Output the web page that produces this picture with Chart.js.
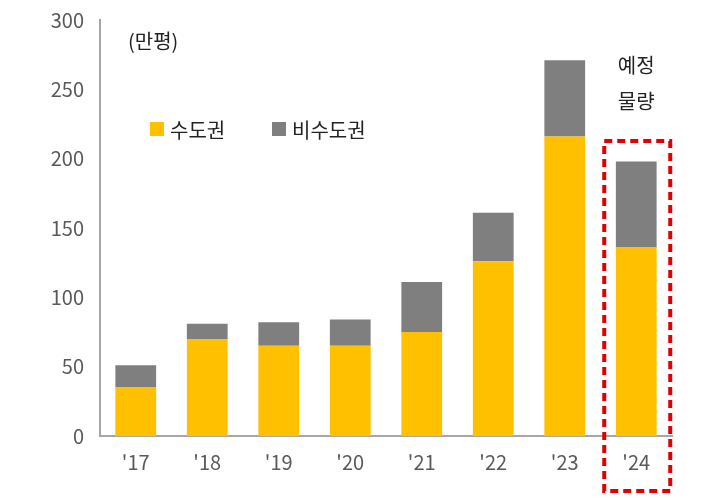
<!DOCTYPE html><html><head><meta charset="utf-8">
<script src="https://cdn.jsdelivr.net/npm/chart.js@4"></script>
<style>html,body{margin:0;background:#fff}#w{width:704px;height:501px}</style></head><body>
<div id="w"><canvas id="c"></canvas></div>
<script>
const categories=["'17","'18","'19","'20","'21","'22","'23","'24"];
const capital=[35,70,65,65,75,126,216,136];
const nonCapital=[16,11,17,19,36,35,55,62];
const yTicks=[0,50,100,150,200,250,300];
const F='"Noto Sans CJK KR","Noto Sans",sans-serif';
const overlay={id:'ov',afterDraw(ch){
 const c=ch.ctx,x=ch.scales.x,y=ch.scales.y;
 c.save();c.fillStyle='#222';c.font='20px '+F;c.textBaseline='middle';
 c.fillText('(만평)',128,41);
 c.fillStyle='#FFC000';c.fillRect(150,122,14,14);
 c.fillStyle='#222';c.fillText('수도권',170,130);
 c.fillStyle='#7F7F7F';c.fillRect(272,122,14,14);
 c.fillStyle='#222';c.fillText('비수도권',292,130);
 const cx=x.getPixelForValue(7);
 c.textAlign='center';c.fillText('예정',cx,65);c.fillText('물량',cx,101);
 c.strokeStyle='#E00000';c.lineWidth=4;c.setLineDash([8,5]);
 c.strokeRect(cx-32,141,66,350);
 c.restore();}};
new Chart(document.getElementById('c'),{type:'bar',
data:{labels:categories,datasets:[
 {label:'수도권',data:capital,backgroundColor:'#FFC000',barPercentage:0.57,categoryPercentage:1},
 {label:'비수도권',data:nonCapital,backgroundColor:'#7F7F7F',barPercentage:0.57,categoryPercentage:1}]},
options:{responsive:true,maintainAspectRatio:false,animation:false,
 layout:{padding:{top:6,right:32,bottom:0,left:0}},
 plugins:{legend:{display:false},tooltip:{enabled:false}},
 scales:{
  x:{stacked:true,grid:{display:false,drawTicks:false},border:{color:'#A6A6A6',width:2},
   ticks:{color:'#595959',font:{size:20,family:F},padding:14},
   afterFit(s){s.height=65;}},
  y:{stacked:true,min:0,max:300,
   afterBuildTicks(s){s.ticks=yTicks.map(v=>({value:v}));},
   grid:{display:false,drawTicks:true,tickLength:8,color:'#A6A6A6'},border:{color:'#A6A6A6',width:2},
   ticks:{color:'#595959',font:{size:20,family:F},padding:8},
   afterFit(s){s.width=100;}}}},
plugins:[overlay]});
</script></body></html>
